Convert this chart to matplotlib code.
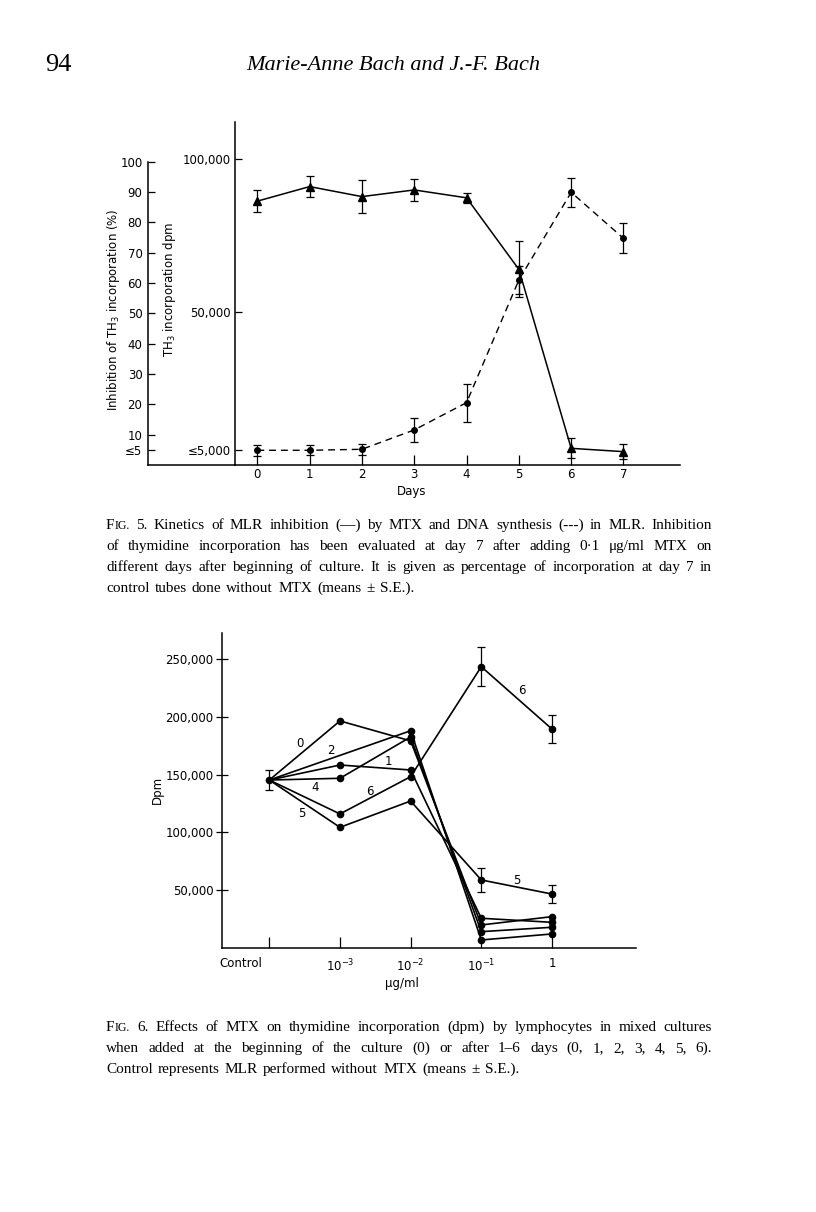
import matplotlib
matplotlib.use("Agg")
import matplotlib.pyplot as plt
import matplotlib.transforms as mtransforms
import numpy as np

W, H = 816, 1212

# ---- Fig. 5 data ----
days = [0, 1, 2, 3, 4, 5, 6, 7]
inhibition_pct = [87.0, 91.8, 88.5, 90.7, 88.1, 64.5, 5.5, 4.4]
inhibition_err = [3.7, 3.4, 5.5, 3.5, 1.7, 9.2, 3.3, 2.5]
dna_dpm = [4800, 4800, 5130, 11440, 20360, 60360, 88990, 73960]
dna_err = [1800, 1650, 1730, 3920, 6200, 4600, 4800, 4900]
pct_ticks = [5, 10, 20, 30, 40, 50, 60, 70, 80, 90, 100]
pct_labels = ['≤5', '10', '20', '30', '40', '50', '60', '70', '80', '90', '100']
dpm_ticks = [5000, 50000, 100000]
dpm_labels = ['≤5,000', '50,000', '100,000']

# ---- Fig. 6 data ----
doses = ['Control', r'$\mathregular{10^{-3}}$', r'$\mathregular{10^{-2}}$',
         r'$\mathregular{10^{-1}}$', '1']
control_dpm = 145300
control_err = 8900
series = {
    '0': [145300, 196500, 179200, 19700, 26900],
    '1': [145300, 158300, 154000, 25500, 22000],
    '2': [145300, np.nan, 188000, 6700, 11900],
    '4': [145300, 146800, 182600, 13900, 17700],
    '5': [145300, 104300, 127100, 58700, 46500],
    '6': [145300, 115900, 148200, 243500, 189500],
}
series_err = {
    '5': [0, 0, 0, 10100, 7400],
    '6': [0, 0, 0, 17000, 12400],
}
# label text, x (dose index), y (dpm)
series_labels = [('0', 0.43, 177000), ('2', 0.87, 170500), ('1', 1.69, 161000),
                 ('4', 0.65, 139000), ('6', 1.43, 135000), ('5', 0.46, 116500),
                 ('6', 3.58, 223000), ('5', 3.50, 58000)]
yb_ticks = [50000, 100000, 150000, 200000, 250000]
yb_labels = ['50,000', '100,000', '150,000', '200,000', '250,000']

caption5 = [
    "FIG. 5. Kinetics of MLR inhibition (—) by MTX and DNA synthesis (---) in MLR. Inhibition",
    "of thymidine incorporation has been evaluated at day 7 after adding 0·1 μg/ml MTX on",
    "different days after beginning of culture. It is given as percentage of incorporation at day 7 in",
    "control tubes done without MTX (means ± S.E.).",
]
caption6 = [
    "FIG. 6. Effects of MTX on thymidine incorporation (dpm) by lymphocytes in mixed cultures",
    "when added at the beginning of the culture (0) or after 1–6 days (0, 1, 2, 3, 4, 5, 6).",
    "Control represents MLR performed without MTX (means ± S.E.).",
]

fig = plt.figure(figsize=(W / 100, H / 100), dpi=100)
fig.patch.set_facecolor('white')
SANS = 'DejaVu Sans'
SERIF = 'Liberation Serif'


def px_axes(l, t, r, b):
    return fig.add_axes([l / W, 1 - b / H, (r - l) / W, (b - t) / H])


def ftext(x, y, s, **kw):
    return fig.text(x / W, 1 - y / H, s, **kw)


# header
ftext(45, 71, '94', fontsize=19, family=SERIF, va='baseline')
ftext(393, 70, 'Marie-Anne Bach and J.-F. Bach', fontsize=16, family=SERIF,
      style='italic', ha='center', va='baseline')

# ---------------- Fig. 5 ----------------
ax_pct = px_axes(148, 161.7, 235, 465)
ax_pct.set_ylim(0, 100)
ax_pct.set_xlim(0, 1)
ax_pct.patch.set_alpha(0)
for s in ['top', 'right']:
    ax_pct.spines[s].set_visible(False)
ax_pct.set_xticks([])
ax_pct.set_yticks(pct_ticks)
ax_pct.set_yticklabels(pct_labels, family=SANS)
ax_pct.tick_params(axis='y', direction='in', length=5, width=0.9, labelsize=8.5, pad=4)

ax = px_axes(235, 122, 680, 465)
ax.set_xlim(-0.426, 8.08)
ax.set_ylim(0, 111930)
ax.patch.set_alpha(0)
for s in ['top', 'right']:
    ax.spines[s].set_visible(False)
ax.set_yticks(dpm_ticks)
ax.set_yticklabels(dpm_labels, family=SANS)
ax.set_xticks(days)
ax.set_xticklabels([str(d) for d in days], family=SANS)
ax.tick_params(axis='y', direction='in', length=5, width=0.9, labelsize=8.5, pad=3)
ax.tick_params(axis='x', direction='in', length=7, width=0.9, labelsize=8.5, pad=2.5)
for s in ['left', 'bottom']:
    ax.spines[s].set_linewidth(1.1)
    ax_pct.spines[s].set_linewidth(1.1)

ax.errorbar(days, dna_dpm, yerr=dna_err, color='black', lw=1.0, ls=(0, (5, 3.5)),
            marker='o', ms=4, capsize=3, elinewidth=0.9, capthick=0.9)

ax2 = ax.twinx()
ax2.set_ylim(0, 113.1)
ax2.axis('off')
ax2.errorbar(days, inhibition_pct, yerr=inhibition_err, color='black', lw=1.1,
             marker='^', ms=6, capsize=3, elinewidth=0.9, capthick=0.9)

ftext(113, 310, 'Inhibition of TH$_3$ incorporation (%)', fontsize=8.5, family=SANS,
      rotation=90, ha='center', va='center')
ftext(169, 290, 'TH$_3$ incorporation dpm', fontsize=8.5, family=SANS,
      rotation=90, ha='center', va='center')
ftext(412, 492, 'Days', fontsize=8.5, family=SANS, ha='center', va='center')

# ---------------- Fig. 6 ----------------
axb = px_axes(221.7, 633, 636, 947.7)
axb.set_xlim(-0.674, 5.19)
axb.set_ylim(0, 272700)
for s in ['top', 'right']:
    axb.spines[s].set_visible(False)
for s in ['left', 'bottom']:
    axb.spines[s].set_linewidth(1.1)
axb.set_yticks(yb_ticks)
axb.set_yticklabels(yb_labels, family=SANS)
axb.set_xticks(range(len(doses)))
axb.set_xticklabels(doses, family=SANS)
axb.tick_params(axis='y', direction='inout', length=8, width=0.9, labelsize=8.5, pad=2)
axb.tick_params(axis='x', direction='in', length=8, width=0.9, labelsize=8.5, pad=7)
shift = mtransforms.ScaledTranslation(-29 / 100, 0, fig.dpi_scale_trans)
lab0 = axb.get_xticklabels()[0]
lab0.set_transform(lab0.get_transform() + shift)

x_pos = np.arange(len(doses))
for name, vals in series.items():
    vals = np.array(vals, dtype=float)
    ok = ~np.isnan(vals)
    axb.plot(x_pos[ok][1:], vals[ok][1:], 'o', color='black', ms=4.5)
    axb.plot(x_pos[ok], vals[ok], '-', color='black', lw=1.2)
    if name in series_err:
        err = np.array(series_err[name], dtype=float)
        axb.errorbar(x_pos[3:], vals[3:], yerr=err[3:], fmt='none', ecolor='black',
                     elinewidth=0.9, capsize=3, capthick=0.9)
axb.errorbar([0], [control_dpm], yerr=[control_err], color='black', marker='o', ms=4.5,
             capsize=3, elinewidth=0.9, capthick=0.9)
for txt, x, y in series_labels:
    axb.text(x, y, txt, fontsize=8.5, family=SANS, ha='center', va='center')

ftext(157, 790, 'Dpm', fontsize=8.5, family=SANS, rotation=90, ha='center', va='center')
ftext(402, 983, 'μg/ml', fontsize=8.5, family=SANS, ha='center', va='center')


# ---------------- captions (justified) ----------------
def caption(lines, x0, x1, y0, dy, size=11.0):
    renderer = fig.canvas.get_renderer()
    space = size * 0.33 * 100 / 72
    for i, line in enumerate(lines):
        groups = []
        for w in line.split(' '):
            if w == 'FIG.':
                parts = [ftext(0, 0, 'F', fontsize=size, family=SERIF, va='baseline'),
                         ftext(0, 0, 'IG.', fontsize=size * 0.78, family=SERIF, va='baseline')]
            else:
                parts = [ftext(0, 0, w, fontsize=size, family=SERIF, va='baseline')]
            widths = [p.get_window_extent(renderer).width for p in parts]
            groups.append((parts, widths))
        total = sum(sum(g[1]) for g in groups)
        if i < len(lines) - 1 and len(groups) > 1:
            gap = max((x1 - x0 - total) / (len(groups) - 1), space * 0.7)
        else:
            gap = space
        x = x0
        y = y0 + i * dy
        for parts, widths in groups:
            for p, w in zip(parts, widths):
                p.set_position((x / W, 1 - y / H))
                x += w
            x += gap


caption(caption5, 106, 712, 529, 21)
caption(caption6, 106, 712, 1031, 21)

fig.savefig('out.png', dpi=100, facecolor='white')
